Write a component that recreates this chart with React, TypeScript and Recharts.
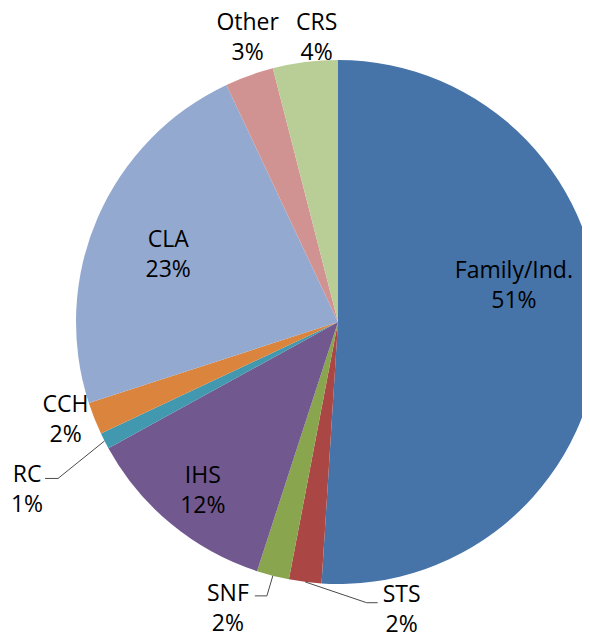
import { Cell, Pie, PieChart } from 'recharts';

const categories = ['Family/Ind.', 'STS', 'SNF', 'IHS', 'RC', 'CCH', 'CLA', 'Other', 'CRS'];
const shares = [51, 2, 2, 12, 1, 2, 23, 3, 4];
const colors = [
  '#4673A8',
  '#AA4643',
  '#89A54E',
  '#71588F',
  '#4198AF',
  '#DB843D',
  '#94A9D0',
  '#D19392',
  '#B9CD96',
];

// label placement: radius along the slice mid-angle, then a nudge; optional leader line
type LabelSpot = { r: number; dx: number; dy: number; line?: { elbow: [number, number]; end: [number, number] } };
const labelSpots: Record<string, LabelSpot> = {
  'Family/Ind.': { r: 176, dx: 0, dy: -44 },
  STS: { r: 290, dx: 100, dy: -2, line: { elbow: [-35, -5], end: [-24, -5] } },
  SNF: { r: 290, dx: -38, dy: 4, line: { elbow: [39, -11], end: [27, -11] } },
  IHS: { r: 212, dx: 0, dy: 4 },
  RC: { r: 349, dx: 0, dy: 8, line: { elbow: [31, -10], end: [18, -10] } },
  CCH: { r: 293, dx: 0, dy: -12 },
  CLA: { r: 185, dx: 0, dy: 4 },
  Other: { r: 305, dx: 13, dy: 1 },
  CRS: { r: 290, dx: 15, dy: 2 },
};

const data = categories.map((name, i) => ({ name, value: shares[i] }));
const RADIAN = Math.PI / 180;

function renderLabel(props: any) {
  const { cx, cy, midAngle, outerRadius, name, value } = props;
  const spot = labelSpots[name];
  const cos = Math.cos(-midAngle * RADIAN);
  const sin = Math.sin(-midAngle * RADIAN);
  const x = cx + spot.r * cos + spot.dx;
  const y = cy + spot.r * sin + spot.dy;
  let line = null;
  if (spot.line) {
    const sx = cx + outerRadius * cos;
    const sy = cy + outerRadius * sin;
    const pts = `${sx},${sy} ${x + spot.line.elbow[0]},${y + spot.line.elbow[1]} ${x + spot.line.end[0]},${y + spot.line.end[1]}`;
    line = <polyline points={pts} fill="none" stroke="#4a4a4a" strokeWidth={1} />;
  }
  return (
    <g key={name}>
      {line}
      <text
        x={x}
        y={y}
        textAnchor="middle"
        fill="#000"
        fontSize={23}
        fontFamily="'Open Sans', sans-serif"
      >
        <tspan x={x} y={y - 15} dominantBaseline="central">
          {name}
        </tspan>
        <tspan x={x} y={y + 15} dominantBaseline="central">
          {value}%
        </tspan>
      </text>
    </g>
  );
}

export default function App() {
  return (
    <div style={{ width: 590, height: 638, margin: '-8px 0 0 -8px', overflow: 'hidden', background: '#fff' }}>
      <PieChart width={610} height={638} margin={{ top: 0, right: 0, bottom: 0, left: 0 }}>
        <Pie
          data={data}
          dataKey="value"
          nameKey="name"
          cx={338}
          cy={322}
          outerRadius={262}
          startAngle={90}
          endAngle={-270}
          stroke="none"
          label={renderLabel}
          labelLine={false}
          isAnimationActive={false}
        >
          {data.map((d, i) => (
            <Cell key={d.name} fill={colors[i]} />
          ))}
        </Pie>
      </PieChart>
    </div>
  );
}
